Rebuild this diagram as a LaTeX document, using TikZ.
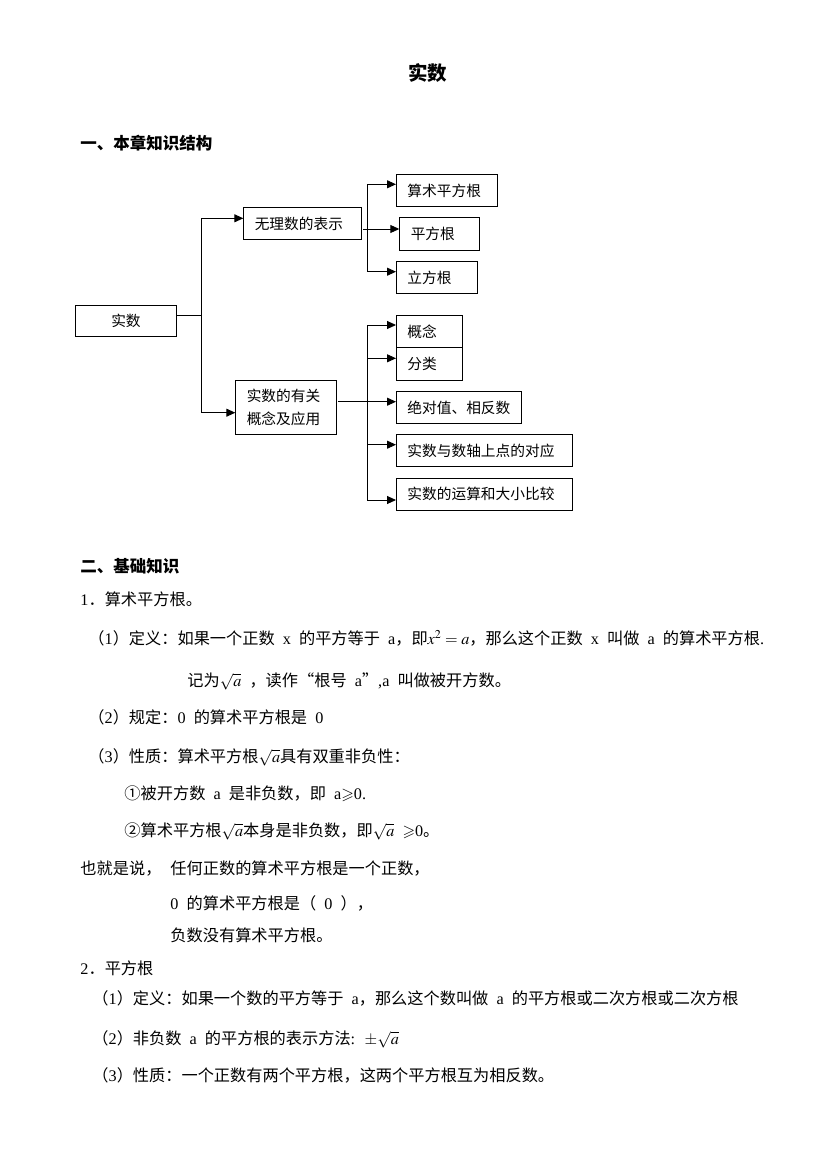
\documentclass[tikz,border=0pt]{standalone}
\usepackage{amssymb}
\usepackage{mathptmx}
\usepackage{fontspec}
\setmainfont{Liberation Serif}
\newfontfamily\cjk{Noto Sans CJK SC}
\newfontfamily\lat[WordSpace={2,0,0}]{Liberation Serif}
\newcommand\hw[1]{{\lat #1}}
\usetikzlibrary{arrows.meta, calc}

\begin{document}
\begin{tikzpicture}[x=1pt, y=-1pt, every path/.style={line width=0.9pt},
  box/.style={draw, inner xsep=11pt, inner ysep=0pt, anchor=north west, align=left,
    font=\cjk\fontsize{14.7}{23}\selectfont},
  txt/.style={anchor=base west, inner sep=0pt, font=\cjk\fontsize{16.2}{19}\selectfont},
  head/.style={anchor=base west, inner sep=0pt, font=\cjk\bfseries\fontsize{16.5}{19}\selectfont},
  arr/.style={-{Triangle[length=9pt, width=8pt]}}]
 \useasboundingbox (0,0) rectangle (826,1169);

 \node[anchor=base, inner sep=0pt, font=\cjk\bfseries\fontsize{19.5}{22}\selectfont] (title) at (427.5,80.5) {实数};
 \node[head] (h1) at (80,149.5) {一、本章知识结构};

 % structure chart
 \node[box, text width=79pt, minimum height=31pt, align=center] (real) at (75,305) {实数};
 \node[box, text width=95.4pt, minimum height=32.6pt] (irr) at (243.3,206.7) {无理数的表示};
 \node[box, text width=78.4pt, minimum height=54.3pt] (rel) at (235.3,380) {实数的有关\\概念及应用};
 \node[box, text width=78.7pt, minimum height=32pt] (arith) at (396,174.3) {算术平方根};
 \node[box, text width=58pt, minimum height=33pt] (sq) at (399.3,217.3) {平方根};
 \node[box, text width=58.7pt, minimum height=32pt] (cube) at (396,261.3) {立方根};
 \node[box, text width=43.7pt, minimum height=32.3pt] (con) at (396,315) {概念};
 \node[box, text width=43.7pt, minimum height=32.7pt] (cls) at (396,347.3) {分类};
 \node[box, text width=102.7pt, minimum height=32.3pt] (abs) at (396,391) {绝对值、相反数};
 \node[box, text width=153.7pt, minimum height=31.7pt] (axis) at (396,434.3) {实数与数轴上点的对应};
 \node[box, text width=153.7pt, minimum height=32.3pt] (ops) at (396,477.7) {实数的运算和大小比较};

 \coordinate (t0) at (201.7,315);
 \coordinate (t1) at (201.7,218.3);
 \coordinate (t2) at (201.7,412.7);
 \draw (t0 -| real.east) -- (t0);
 \draw (t1) -- (t2);
 \draw[arr] (t1) -- (t1 -| irr.west);
 \draw[arr] (t2) -- (t2 -| rel.west);

 \coordinate (u1) at (367.3,184.3);
 \coordinate (u2) at (363.3,229);
 \coordinate (u3) at (367.3,271.7);
 \draw (u1) -- (u3);
 \draw[arr] (u1) -- (u1 -| arith.west);
 \draw[arr] (u2) -- (u2 -| sq.west);
 \draw[arr] (u3) -- (u3 -| cube.west);

 \coordinate (v1) at (367.3,325);
 \coordinate (v5) at (367.3,500);
 \coordinate (v3) at (338,401.7);
 \draw (v1) -- (v5);
 \draw[arr] (v3) -- (v3 -| abs.west);
 \foreach \n/\y in {con/325, cls/358.3, axis/444.7, ops/500}
   \draw[arr] (367.3,\y) coordinate (s) -- (s -| \n.west);

 % basic knowledge
 \node[head] (h2) at (80,572) {二、基础知识};
 \node[txt] (p1) at (80,605) {\hw{1}．算术平方根。};
 \node[txt] (p1a) at (88,644) {（\hw{1}）定义：如果一个正数\hw{ x }的平方等于\hw{ a}，即$x^2 = a$，那么这个正数\hw{ x }叫做\hw{ a }的算术平方根\hw{.}};
 \node[txt] (p1b) at (187,686) {记为$\sqrt{a}$\hw{ }，读作“根号\hw{ a}”\hw{,a }叫做被开方数。};
 \node[txt] (p1c) at (88,723) {（\hw{2}）规定：\hw{0 }的算术平方根是\hw{ 0}};
 \node[txt] (p1d) at (88,762) {（\hw{3}）性质：算术平方根$\sqrt{a}$具有双重非负性：};
 \node[txt] (p1e) at (124,799) {①被开方数\hw{ a }是非负数，即\hw{ a}$\geqslant$\hw{0.}};
 \node[txt] (p1f) at (124,836) {②算术平方根$\sqrt{a}$本身是非负数，即$\sqrt{a}$\hw{ }$\geqslant$\hw{0}。};
 \node[txt] (say) at (80,874) {也就是说，};
 \node[txt] (say1) at (170,874) {任何正数的算术平方根是一个正数，};
 \node[txt] (say2) at (170,909) {\hw{0 }的算术平方根是（\hw{ 0 }），};
 \node[txt] (say3) at (170,941) {负数没有算术平方根。};
 \node[txt] (p2) at (80,974) {\hw{2}．平方根};
 \node[txt] (p2a) at (92,1004) {（\hw{1}）定义：如果一个数的平方等于\hw{ a}，那么这个数叫做\hw{ a }的平方根或二次方根或二次方根};
 \node[txt] (p2b) at (92,1044) {（\hw{2}）非负数\hw{ a }的平方根的表示方法\hw{:  }$\pm\sqrt{a}$};
 \node[txt] (p2c) at (92,1081) {（\hw{3}）性质：一个正数有两个平方根，这两个平方根互为相反数。};
\end{tikzpicture}
\end{document}
